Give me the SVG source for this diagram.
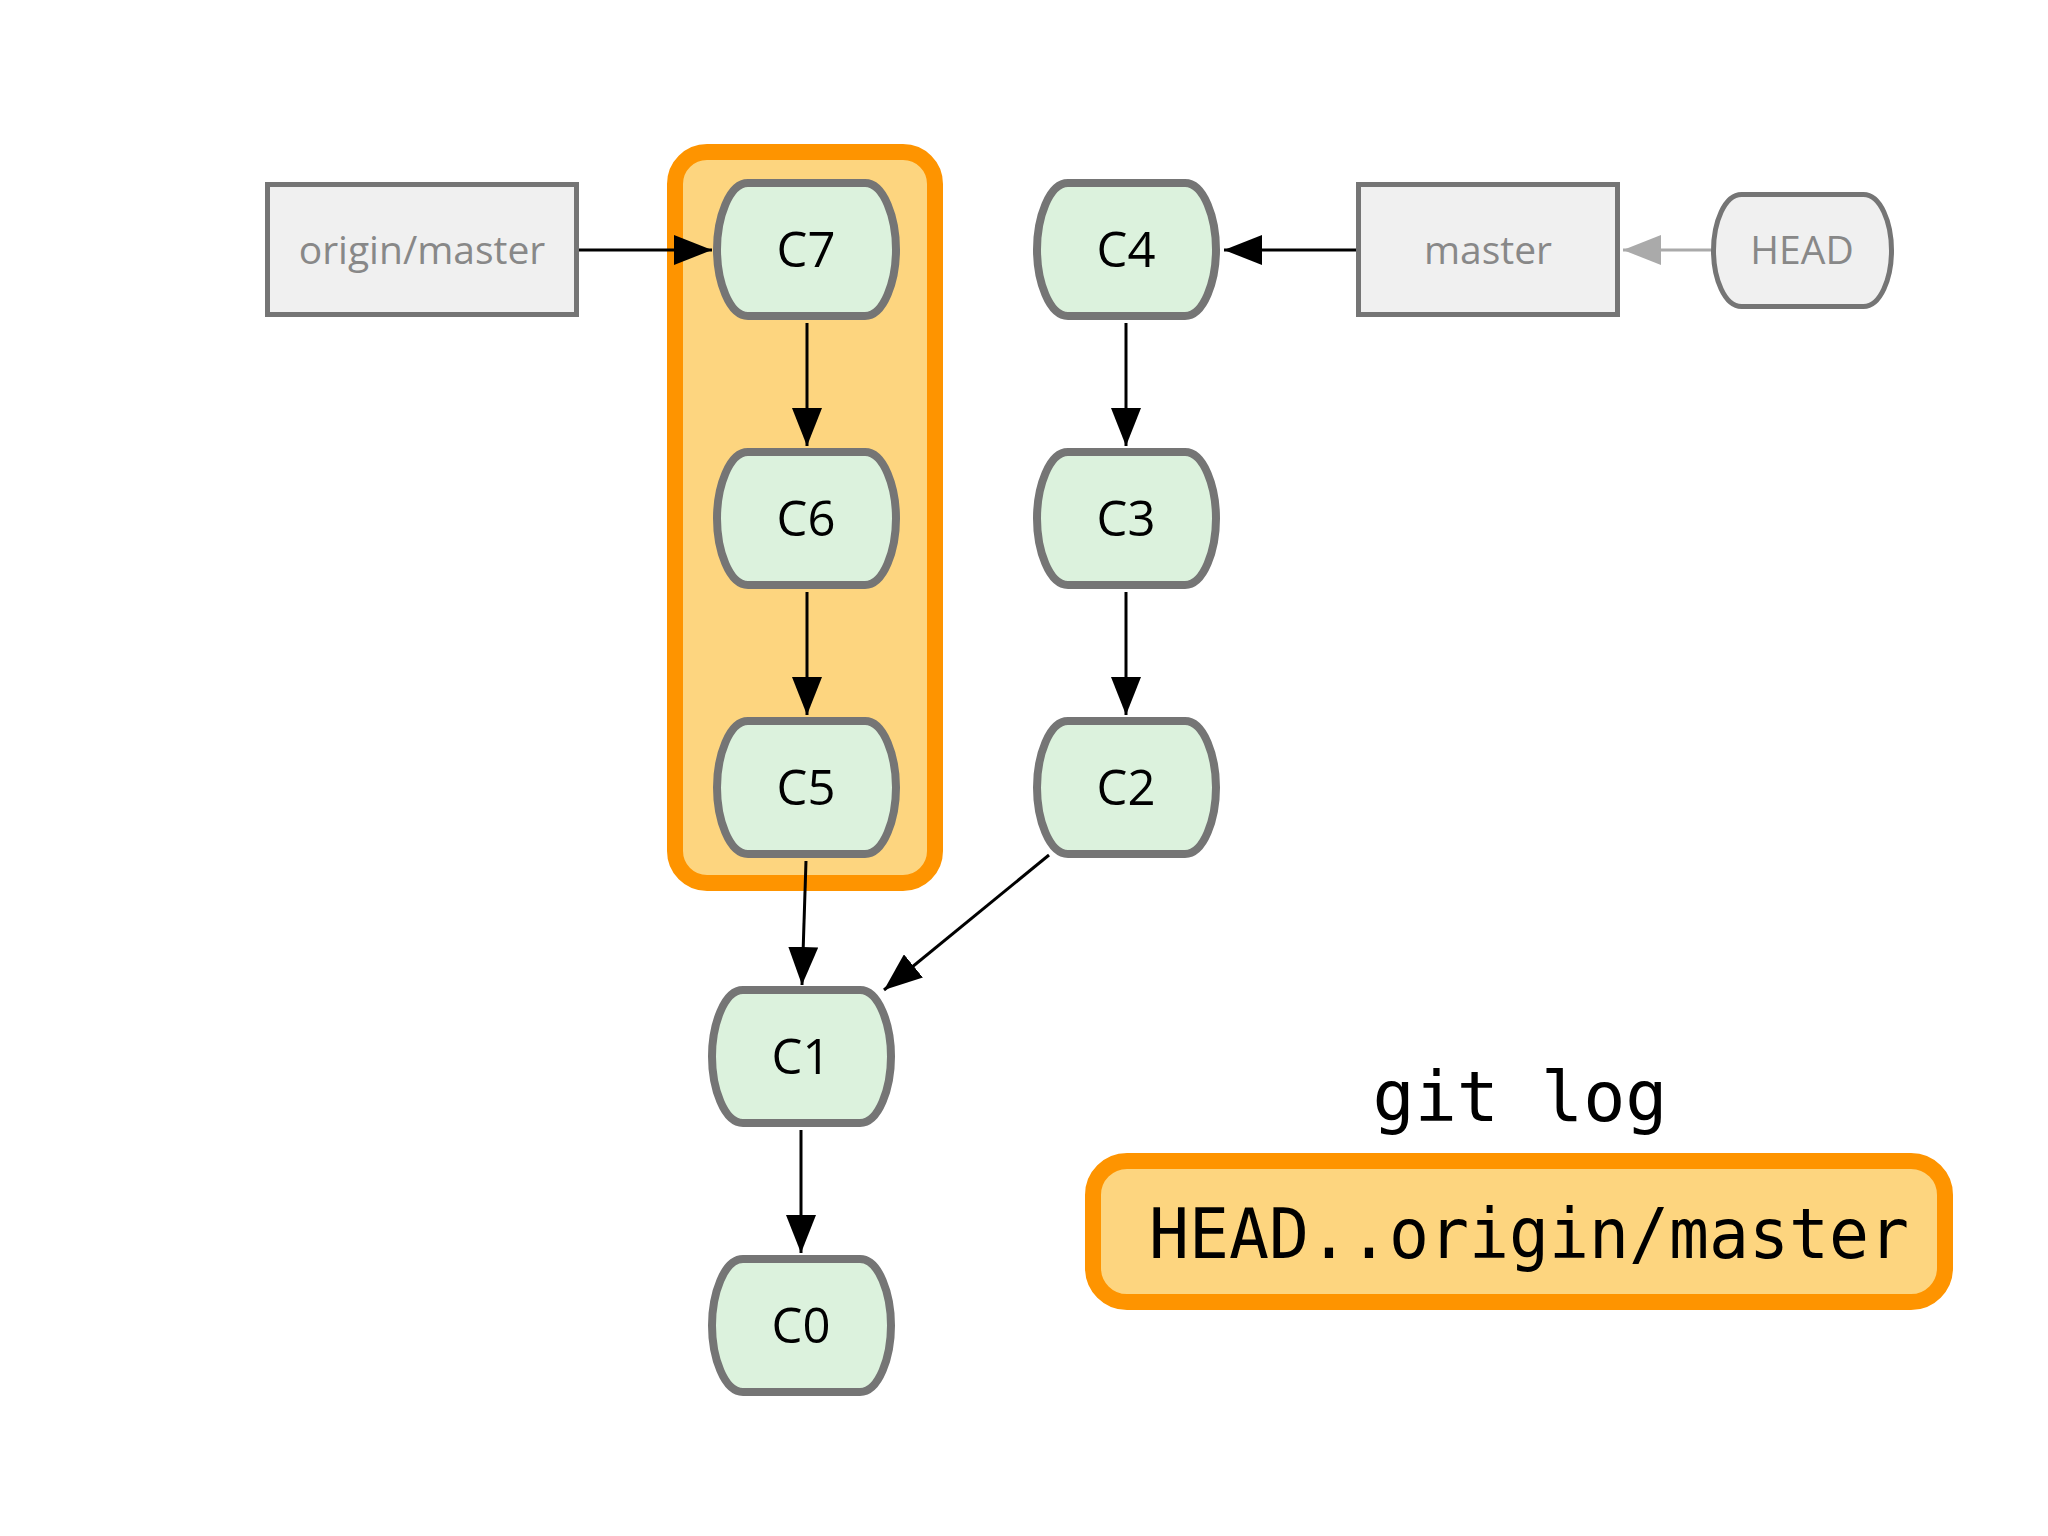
<svg xmlns="http://www.w3.org/2000/svg" xmlns:xlink="http://www.w3.org/1999/xlink" width="2048" height="1536" viewBox="0 0 2048 1536">
<defs>
<style>
.commit{fill:#dcf2dd;stroke:#757575;stroke-width:8;stroke-linejoin:round}
.ref{fill:#f0f0f0;stroke:#757575;stroke-width:5}
.ctext{font-family:"Open Sans","DejaVu Sans",sans-serif;font-size:49px;fill:#000;text-anchor:middle}
.rtext{font-family:"Open Sans","DejaVu Sans",sans-serif;font-size:39px;fill:#888;text-anchor:middle}
.edge{stroke:#000;stroke-width:3;fill:none;marker-end:url(#ah)}
.hl{fill:#fdd57f;stroke:#fe9400;stroke-width:16}
.mono{font-family:"DejaVu Sans Mono","Liberation Mono",monospace;fill:#000}
</style>
<path id="barrel" d="M 30,0 H 147 C 166,0 178,35 178,66.5 C 178,98 166,133 147,133 H 30 C 11,133 -1,98 -1,66.5 C -1,35 11,0 30,0 Z"/>
<marker id="ah" markerUnits="userSpaceOnUse" markerWidth="38" markerHeight="30" refX="38" refY="15" orient="auto">
<path d="M0,0 L38,15 L0,30 Z" fill="#000"/>
</marker>
<marker id="ahg" markerUnits="userSpaceOnUse" markerWidth="38" markerHeight="30" refX="38" refY="15" orient="auto">
<path d="M0,0 L38,15 L0,30 Z" fill="#aaa"/>
</marker>
</defs>
<rect width="2048" height="1536" fill="#fff"/>
<g id="highlight">
<rect class="hl" x="675" y="152" width="260" height="731" rx="32"/>
</g>
<g id="origin-master">
<rect class="ref" x="267.5" y="184.5" width="309" height="130"/>
<text class="rtext" x="422" y="264">origin/master</text>
</g>
<g id="master">
<rect class="ref" x="1358.5" y="184.5" width="259" height="130"/>
<text class="rtext" x="1488" y="264">master</text>
</g>
<g id="HEAD">
<path class="ref" transform="translate(1713.5,194.5)" d="M 28,0 H 150 C 167,0 178,28 178,56 C 178,84 167,112 150,112 H 28 C 11,112 0,84 0,56 C 0,28 11,0 28,0 Z"/>
<text class="rtext" x="1802" y="264">HEAD</text>
</g>
<g id="C7"><use xlink:href="#barrel" class="commit" x="718" y="183"/><text class="ctext" x="806" y="267">C7</text></g>
<g id="C6"><use xlink:href="#barrel" class="commit" x="718" y="452"/><text class="ctext" x="806" y="536">C6</text></g>
<g id="C5"><use xlink:href="#barrel" class="commit" x="718" y="721"/><text class="ctext" x="806" y="805">C5</text></g>
<g id="C4"><use xlink:href="#barrel" class="commit" x="1038" y="183"/><text class="ctext" x="1126" y="267">C4</text></g>
<g id="C3"><use xlink:href="#barrel" class="commit" x="1038" y="452"/><text class="ctext" x="1126" y="536">C3</text></g>
<g id="C2"><use xlink:href="#barrel" class="commit" x="1038" y="721"/><text class="ctext" x="1126" y="805">C2</text></g>
<g id="C1"><use xlink:href="#barrel" class="commit" x="713" y="990"/><text class="ctext" x="801" y="1074">C1</text></g>
<g id="C0"><use xlink:href="#barrel" class="commit" x="713" y="1259"/><text class="ctext" x="801" y="1343">C0</text></g>
<g id="connectors">
<path class="edge" d="M 579,250 L 712,250"/>
<path class="edge" d="M 1356,250 L 1224,250"/>
<path d="M 1711,250 L 1623,250" stroke="#aaa" stroke-width="3" fill="none" marker-end="url(#ahg)"/>
<path class="edge" d="M 807,323 L 807,446"/>
<path class="edge" d="M 807,592 L 807,715"/>
<path class="edge" d="M 806,861 L 802,985"/>
<path class="edge" d="M 1126,323 L 1126,446"/>
<path class="edge" d="M 1126,592 L 1126,715"/>
<path class="edge" d="M 1049,855 L 884,990"/>
<path class="edge" d="M 801,1130 L 801,1253"/>
</g>
<g id="command">
<text class="mono" x="1520" y="1121" font-size="70" text-anchor="middle">git log</text>
<rect class="hl" x="1093" y="1161" width="852" height="141" rx="34"/>
<text class="mono" x="1149" y="1258" font-size="70" textLength="760" lengthAdjust="spacingAndGlyphs">HEAD..origin/master</text>
</g>
</svg>
